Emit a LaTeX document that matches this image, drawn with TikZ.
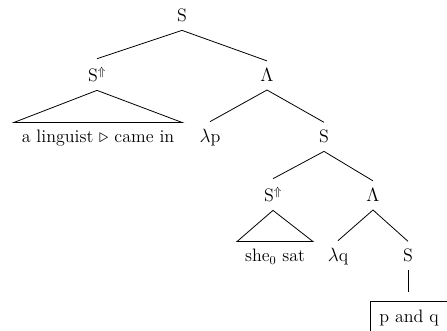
\documentclass[tikz,border=0pt]{standalone}
\begin{document}
\begin{tikzpicture}[x=0.75pt,y=-0.75pt,
  lbl/.style={anchor=base,inner sep=6pt,outer sep=0pt,font=\fontsize{13.5}{16}\selectfont},
  edge/.style={line width=0.6pt},
  boxed/.style={lbl,draw,line width=0.6pt,inner xsep=7pt,inner ysep=7pt}]
\useasboundingbox (0,0) rectangle (447,331);
\clip (0,0) rectangle (447,331);
\node[lbl] (s0) at (182,22) {S};
\node[lbl] (sa) at (97,82) {S$^{\Uparrow}$};
\node[lbl] (la) at (267,82) {$\Lambda$};
\node[lbl] (ta) at (98,143) {a linguist $\triangleright$ came in};
\node[lbl] (lp) at (210,143) {$\lambda$p};
\node[lbl] (s1) at (324,143) {S};
\node[lbl] (sb) at (273,202) {S$^{\Uparrow}$};
\node[lbl] (lb) at (373,202) {$\Lambda$};
\node[lbl] (tb) at (275,262) {she$_0$ sat};
\node[lbl] (lq) at (338,262) {$\lambda$q};
\node[lbl] (s2) at (408,262) {S};
\node[boxed] (bx) at (409,323) {p and q};
\coordinate (bxtop) at ([yshift=6.75pt]s2.south |- bx.north);
\draw[edge] (s0.south) -- (sa.north);
\draw[edge] (s0.south) -- (la.north);
\draw[edge] (sa.south) -- (ta.north west) -- (ta.north east) -- cycle;
\draw[edge] (la.south) -- (lp.north);
\draw[edge] (la.south) -- (s1.north);
\draw[edge] (s1.south) -- (sb.north);
\draw[edge] (s1.south) -- (lb.north);
\draw[edge] (sb.south) -- (tb.north west) -- (tb.north east) -- cycle;
\draw[edge] (lb.south) -- (lq.north);
\draw[edge] (lb.south) -- (s2.north);
\draw[edge] (s2.south) -- (bxtop);
\end{tikzpicture}
\end{document}
